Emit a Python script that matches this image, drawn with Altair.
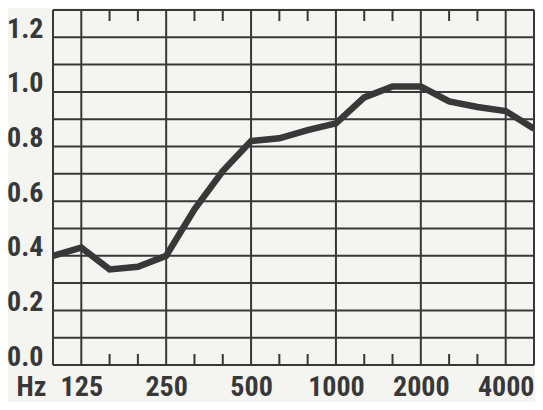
import altair as alt
import pandas as pd

# 1/3-octave band centre frequencies (Hz) and absorption coefficients
bands = ["100", "125", "160", "200", "250", "315", "400", "500", "630", "800",
         "1000", "1250", "1600", "2000", "2500", "3150", "4000", "5000"]
alpha = [0.40, 0.43, 0.35, 0.36, 0.40, 0.57, 0.71, 0.82, 0.83, 0.86,
         0.885, 0.98, 1.02, 1.02, 0.965, 0.945, 0.93, 0.865]

labeled_bands = ["125", "250", "500", "1000", "2000", "4000"]
octave_lines = ["100", "125", "250", "500", "1000", "2000", "4000", "5000"]
y_lines = [0.0, 0.1, 0.2, 0.3, 0.4, 0.5, 0.6, 0.7, 0.8, 0.9, 1.0, 1.1, 1.2, 1.3]
y_labels = [0.0, 0.2, 0.4, 0.6, 0.8, 1.0, 1.2]

INK = "#383838"
FONT = "Noto Sans Condensed, Roboto Condensed, Liberation Sans Narrow, Liberation Sans, sans-serif"
FS = 28
W, H = 481, 355

df = pd.DataFrame({"i": list(range(len(bands))), "band": bands, "alpha": alpha})
hdf = pd.DataFrame({"v": y_lines})
vdf = pd.DataFrame({"i": [bands.index(b) for b in octave_lines]})
mdf = pd.DataFrame({"i": [k for k, b in enumerate(bands) if b not in octave_lines]})

xscale = alt.Scale(domain=[0, len(bands) - 1], nice=False, zero=False)
yscale = alt.Scale(domain=[0, 1.3], nice=False, zero=True)

label_array = "[" + ",".join("'%s'" % b for b in bands) + "]"

xaxis = alt.Axis(
    values=[bands.index(b) for b in labeled_bands],
    labelExpr=label_array + "[datum.value]",
    grid=False, ticks=False, domain=False,
    labelFont=FONT, labelFontSize=FS, labelFontWeight="bold", labelColor=INK,
    labelBaseline="alphabetic", labelPadding=30, labelFlush=False, labelOverlap=False,
    title="Hz", titleFont=FONT, titleFontSize=FS, titleFontWeight="bold", titleColor=INK,
    titleX=-22, titleY=30, titleAlign="center", titleBaseline="alphabetic",
)
yaxis = alt.Axis(
    values=y_labels, format=".1f",
    grid=False, ticks=False, domain=False,
    labelFont=FONT, labelFontSize=FS, labelFontWeight="bold", labelColor=INK,
    labelBaseline="alphabetic", labelPadding=10, labelOverlap=False, labelFlush=False,
    title=None,
)

X = lambda f: alt.X(f, scale=xscale, axis=xaxis)
Y = lambda f: alt.Y(f, scale=yscale, axis=yaxis)

line = alt.Chart(df).mark_line(color=INK, strokeWidth=6.5).encode(
    x=X("i:Q"), y=Y("alpha:Q"),
)
hrules = alt.Chart(hdf).mark_rule(color=INK, strokeWidth=2).encode(y=Y("v:Q"))
vrules = alt.Chart(vdf).mark_rule(color=INK, strokeWidth=2).encode(x=X("i:Q"))
ticks_bottom = alt.Chart(mdf).mark_rule(color=INK, strokeWidth=2).encode(
    x=X("i:Q"), y=alt.value(H), y2=alt.value(H - 11)
)
ticks_top = alt.Chart(mdf).mark_rule(color=INK, strokeWidth=2).encode(
    x=X("i:Q"), y=alt.value(0), y2=alt.value(11)
)

chart = alt.layer(hrules, vrules, ticks_bottom, ticks_top, line).properties(
    width=W, height=H,
    autosize=alt.AutoSizeParams(type="none"),
    padding={"left": 45, "top": 2, "right": 1, "bottom": 37},
    background="#f4f4f1",
).configure_view(stroke=None)

chart.save("out.html", embed_options={"renderer": "svg", "actions": False})
